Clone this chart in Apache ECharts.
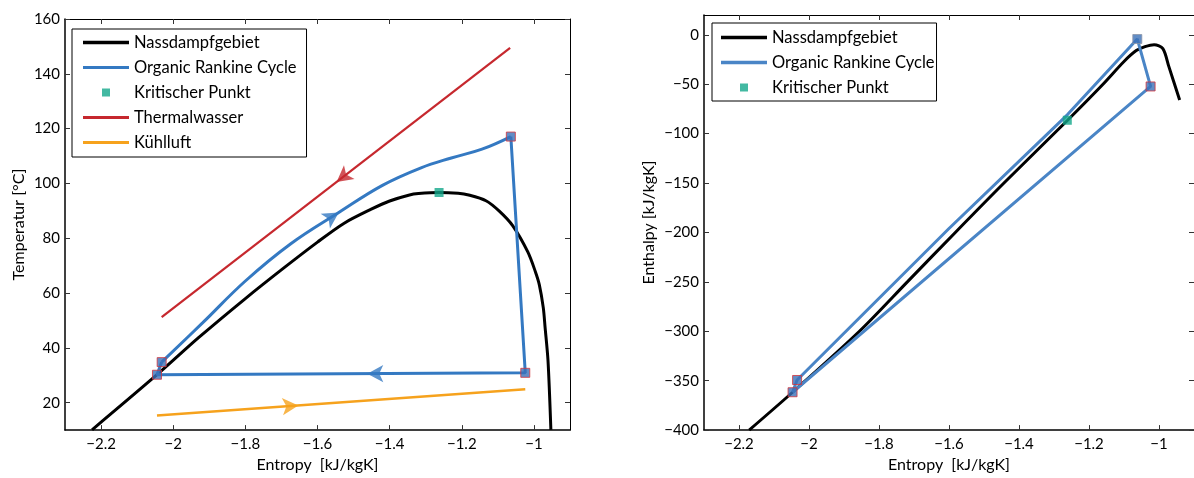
<!DOCTYPE html>
<html>
<head>
<meta charset="utf-8">
<script src="https://cdn.jsdelivr.net/npm/echarts@6/dist/echarts.min.js"></script>
<style>
html,body{margin:0;padding:0;background:#fff;}
#c{width:1194px;height:478px;}
</style>
</head>
<body>
<div id="c"></div>
<script>
// ================= DATA =================
// T-s diagram (left)
const satTS_s = [-2.225, -2.045, -1.929, -1.800, -1.695, -1.600, -1.526, -1.451, -1.400, -1.345, -1.320, -1.263, -1.210, -1.181, -1.133, -1.096, -1.059, -1.017, -0.996, -0.985, -0.974, -0.969, -0.961, -0.953];
const satTS_T = [10.1, 30.2, 43.8, 58.0, 69.0, 78.6, 85.5, 90.6, 93.6, 95.8, 96.3, 96.7, 96.4, 95.8, 93.7, 89.9, 84.6, 75.0, 67.8, 63.0, 54.6, 47.4, 35.4, 10.1];

// ORC heating curve (pump outlet -> turbine inlet)
const orcHeatTS_s = [-2.032, -1.918, -1.800, -1.674, -1.541, -1.420, -1.313, -1.229, -1.144, -1.064];
const orcHeatTS_T = [34.8, 49.2, 64.4, 78.0, 89.4, 99.3, 105.7, 109.3, 112.5, 117.1];
// ORC straight parts (turbine inlet -> turbine outlet -> condenser -> pump)
const orcRestTS_s = [-1.064, -1.024, -2.045, -2.032];
const orcRestTS_T = [117.1, 30.9, 30.2, 34.8];

const orcPtsTS_s = [-2.045, -2.032, -1.064, -1.024];
const orcPtsTS_T = [30.2, 34.8, 117.1, 30.9];

const thermal_s = [-1.066, -2.032];
const thermal_T = [149.5, 51.2];

const cool_s = [-2.045, -1.024];
const cool_T = [15.3, 24.9];

const critTS_s = [-1.263];
const critTS_T = [96.7];

// arrows: [s, T, fromS, fromT, toS, toT]
const arrowsTS = [
  [-1.547, 100.55, -1.066, 149.5, -2.032, 51.2],   // Thermalwasser
  [-1.541, 89.4, -1.674, 78.0, -1.420, 99.3],      // ORC heating
  [-1.462, 30.6, -1.024, 30.9, -2.045, 30.2],      // ORC condensation
  [-1.653, 19.0, -2.045, 15.3, -1.024, 24.9]       // Kühlluft
];
const arrowKinds = ['thermal', 'orc', 'orc', 'cool'];

// h-s diagram (right)
const satHS_s = [-2.171, -2.047, -1.856, -1.719, -1.582, -1.443, -1.262, -1.160, -1.100, -1.065, -1.040, -1.014, -0.989, -0.972, -0.941];
const satHS_h = [-400, -361.7, -300, -250, -200, -150, -86.7, -50, -27, -16, -12, -10, -14, -32, -66];

const orcHS_s = [-2.047, -2.034, -1.600, -1.262, -1.062, -1.024, -2.047];
const orcHS_h = [-361.7, -349.3, -196, -81, -4.3, -52.3, -361.7];

const orcPtsHS_s = [-2.047, -2.034, -1.062, -1.024];
const orcPtsHS_h = [-361.7, -349.3, -4.3, -52.3];

const critHS_s = [-1.262];
const critHS_h = [-86.5];

// ticks
const xTicks = [-2.2, -2, -1.8, -1.6, -1.4, -1.2, -1];
const yTicksT = [20, 40, 60, 80, 100, 120, 140, 160];
const yTicksH = [-400, -350, -300, -250, -200, -150, -100, -50, 0];

// ================= STYLE =================
const FONT = 'Lato';
const C_BLACK = '#000000';
const C_BLUE = '#3479c2';
const C_BLUE2 = '#4a85c6';
const C_RED = '#c6282e';
const C_ORANGE = '#f6a21d';
const C_GREEN = '#14a88b';
const C_MFILL = '#3b70b8';
const C_MEDGE = '#d3343c';
const SQ_ICON = 'path://M0,0M46,14M19,3L27,3L27,11L19,11Z';
const lineIcon = w => 'path://M0,0M46,14M0,' + (7 - w / 2) + 'L46,' + (7 - w / 2) + 'L46,' + (7 + w / 2) + 'L0,' + (7 + w / 2) + 'Z';

const pairs = (a, b) => a.map((v, i) => [v, b[i]]);
const fmt = v => String(+(+v).toFixed(2)).replace('-', '\u2212');

function xAx(grid, pos, main) {
  return {
    type: 'value', gridIndex: grid, position: pos, min: -2.3, max: -0.9,
    splitLine: {show: false},
    axisLine: {show: true, onZero: false, lineStyle: {color: '#000', width: main ? 1.5 : 1}},
    axisTick: {show: true, inside: true, length: 5, customValues: xTicks, lineStyle: {color: '#333', width: 1}},
    axisLabel: {show: main, customValues: xTicks, formatter: fmt, margin: 7, fontSize: 15, fontFamily: FONT, color: '#000', showMinLabel: true, showMaxLabel: true},
    name: main ? 'Entropy  [kJ/kgK]' : '', nameLocation: 'middle', nameGap: 26,
    nameTextStyle: {fontSize: 16, fontFamily: FONT, color: '#000'}
  };
}
function yAx(grid, pos, main, min, max, ticks, name, gap) {
  return {
    type: 'value', gridIndex: grid, position: pos, min: min, max: max,
    splitLine: {show: false},
    axisLine: {show: true, onZero: false, lineStyle: {color: '#000', width: main ? 1.5 : 1}},
    axisTick: {show: true, inside: true, length: 5, customValues: ticks, lineStyle: {color: '#333', width: 1}},
    axisLabel: {show: main, customValues: ticks, formatter: fmt, margin: 5, fontSize: 15, fontFamily: FONT, color: '#000', showMinLabel: true, showMaxLabel: true},
    name: main ? name : '', nameLocation: 'middle', nameGap: gap,
    nameTextStyle: {fontSize: 16, fontFamily: FONT, color: '#000'}
  };
}

function arrowData(rots) {
  return arrowsTS.map((a, i) => ({
    value: [a[0], a[1]],
    symbolRotate: rots ? rots[i] : 0,
    itemStyle: {color: arrowKinds[i] === 'thermal' ? C_RED : arrowKinds[i] === 'cool' ? C_ORANGE : C_BLUE}
  }));
}

const legendText = {fontSize: 16.5, fontFamily: FONT, color: '#000'};

const option = {
  animation: false,
  backgroundColor: '#ffffff',
  grid: [
    {left: 65, top: 19, width: 505, height: 418},
    {left: 704, top: 15, width: 493, height: 419}
  ],
  xAxis: [xAx(0, 'bottom', true), xAx(0, 'top', false), xAx(1, 'bottom', true), xAx(1, 'top', false)],
  yAxis: [
    yAx(0, 'left', true, 10, 160, yTicksT, 'Temperatur [°C]', 38),
    yAx(0, 'right', false, 10, 160, yTicksT, '', 0),
    yAx(1, 'left', true, -400, 20, yTicksH, 'Enthalpy [kJ/kgK]', 47),
    yAx(1, 'right', false, -400, 20, yTicksH, '', 0)
  ],
  legend: [
    {
      left: 72, top: 29, orient: 'vertical', itemWidth: 46, itemHeight: 14, itemGap: 8,
      padding: [5, 10, 6, 11], borderColor: '#000', borderWidth: 1, backgroundColor: '#fff',
      textStyle: legendText, selectedMode: false,
      data: [
        {name: 'Nassdampfgebiet', icon: lineIcon(3.5)},
        {name: 'Organic Rankine Cycle', icon: lineIcon(3)},
        {name: 'Kritischer Punkt', icon: SQ_ICON},
        {name: 'Thermalwasser', icon: lineIcon(3)},
        {name: 'Kühlluft', icon: lineIcon(3)}
      ]
    },
    {
      left: 712, top: 23, orient: 'vertical', itemWidth: 46, itemHeight: 14, itemGap: 8,
      padding: [6, 2, 5, 9], borderColor: '#000', borderWidth: 1, backgroundColor: '#fff',
      textStyle: legendText, selectedMode: false,
      formatter: n => n.split('#')[0],
      data: [
        {name: 'Nassdampfgebiet#2', icon: lineIcon(3.5)},
        {name: 'Organic Rankine Cycle#2', icon: lineIcon(3.5)},
        {name: 'Kritischer Punkt#2', icon: SQ_ICON}
      ]
    }
  ],
  series: [
    // ---- left ----
    {name: 'Nassdampfgebiet', type: 'line', xAxisIndex: 0, yAxisIndex: 0, data: pairs(satTS_s, satTS_T),
     symbol: 'none', smooth: 0.3, lineStyle: {color: C_BLACK, width: 3}, itemStyle: {color: C_BLACK}, z: 2},
    {name: 'Organic Rankine Cycle', type: 'line', xAxisIndex: 0, yAxisIndex: 0, data: pairs(orcHeatTS_s, orcHeatTS_T),
     symbol: 'none', smooth: 0.4, lineStyle: {color: C_BLUE, width: 3}, itemStyle: {color: C_BLUE}, z: 3},
    {name: 'Organic Rankine Cycle', type: 'line', xAxisIndex: 0, yAxisIndex: 0, data: pairs(orcRestTS_s, orcRestTS_T),
     symbol: 'none', lineStyle: {color: C_BLUE, width: 3}, itemStyle: {color: C_BLUE}, z: 3},
    {name: 'Kritischer Punkt', type: 'scatter', xAxisIndex: 0, yAxisIndex: 0, data: pairs(critTS_s, critTS_T),
     symbol: 'rect', symbolSize: 9, itemStyle: {color: C_GREEN}, z: 6},
    {name: 'Thermalwasser', type: 'line', xAxisIndex: 0, yAxisIndex: 0, data: pairs(thermal_s, thermal_T),
     symbol: 'none', lineStyle: {color: C_RED, width: 2.2}, itemStyle: {color: C_RED}, z: 3},
    {name: 'Kühlluft', type: 'line', xAxisIndex: 0, yAxisIndex: 0, data: pairs(cool_s, cool_T),
     symbol: 'none', lineStyle: {color: C_ORANGE, width: 2.5}, itemStyle: {color: C_ORANGE}, z: 3},
    {name: 'orcPointsTS', type: 'scatter', xAxisIndex: 0, yAxisIndex: 0, data: pairs(orcPtsTS_s, orcPtsTS_T),
     symbol: 'rect', symbolSize: 9, itemStyle: {color: C_MFILL, borderColor: C_MEDGE, borderWidth: 1}, z: 5},
    {id: 'arrTS', name: 'arrowsTS', type: 'scatter', xAxisIndex: 0, yAxisIndex: 0, data: arrowData(null),
     symbol: 'arrow', symbolSize: [13, 16], z: 7},
    // ---- right ----
    {name: 'Nassdampfgebiet#2', type: 'line', xAxisIndex: 2, yAxisIndex: 2, data: pairs(satHS_s, satHS_h),
     symbol: 'none', smooth: 0.3, lineStyle: {color: C_BLACK, width: 3}, itemStyle: {color: C_BLACK}, z: 2},
    {name: 'Organic Rankine Cycle#2', type: 'line', xAxisIndex: 2, yAxisIndex: 2, data: pairs(orcHS_s, orcHS_h),
     symbol: 'none', lineStyle: {color: C_BLUE2, width: 3}, itemStyle: {color: C_BLUE2}, z: 3},
    {name: 'Kritischer Punkt#2', type: 'scatter', xAxisIndex: 2, yAxisIndex: 2, data: pairs(critHS_s, critHS_h),
     symbol: 'rect', symbolSize: 9, itemStyle: {color: C_GREEN}, z: 6},
    {name: 'orcPointsHS', type: 'scatter', xAxisIndex: 2, yAxisIndex: 2,
     data: pairs(orcPtsHS_s, orcPtsHS_h).map((p, i) => ({value: p, itemStyle: {borderColor: i === 2 ? '#8a93a8' : C_MEDGE}})),
     symbol: 'rect', symbolSize: 9, itemStyle: {color: C_MFILL, borderColor: C_MEDGE, borderWidth: 1}, z: 5}
  ]
};

const chart = echarts.init(document.getElementById('c'), null, {renderer: 'canvas'});
chart.setOption(option);

// rotate arrows along their line directions (pixel space)
const rots = arrowsTS.map(a => {
  const p0 = chart.convertToPixel({seriesId: 'arrTS'}, [a[2], a[3]]);
  const p1 = chart.convertToPixel({seriesId: 'arrTS'}, [a[4], a[5]]);
  const ang = Math.atan2(-(p1[1] - p0[1]), p1[0] - p0[0]) * 180 / Math.PI;
  return ang - 90;
});
chart.setOption({series: [{id: 'arrTS', data: arrowData(rots)}]});
</script>
</body>
</html>
